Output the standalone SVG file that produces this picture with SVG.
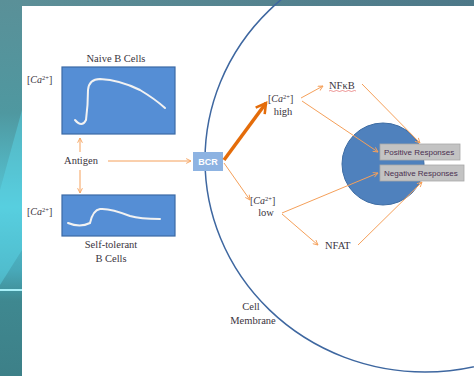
<svg xmlns="http://www.w3.org/2000/svg" width="474" height="376" viewBox="0 0 474 376">
<defs>
<linearGradient id="bgTop" x1="0" y1="0" x2="1" y2="0">
<stop offset="0" stop-color="#5d9098"/><stop offset="1" stop-color="#4d7888"/>
</linearGradient>
<linearGradient id="bgLeft" x1="0" y1="0" x2="0" y2="1">
<stop offset="0" stop-color="#5a9098"/><stop offset="0.3" stop-color="#4f98a0"/><stop offset="0.55" stop-color="#55c8d8"/><stop offset="0.72" stop-color="#48a8b8"/><stop offset="0.8" stop-color="#3f8890"/><stop offset="1" stop-color="#3d8088"/>
</linearGradient>
<marker id="arr" viewBox="0 0 10 10" refX="9" refY="5" markerWidth="6" markerHeight="6" orient="auto" markerUnits="userSpaceOnUse">
<path d="M1,1 L9,5 L1,9" fill="none" stroke="#f5a05a" stroke-width="1.5"/>
</marker>
<marker id="arrThick" viewBox="0 0 10 10" refX="8" refY="5" markerWidth="4" markerHeight="4" orient="auto">
<path d="M1,1 L8,5 L1,9" fill="none" stroke="#e46c0a" stroke-width="1.8"/>
</marker>
<style>
.lbl{font-family:"Liberation Serif",serif;font-size:10.5px;fill:#3a3440;}
.ca{font-family:"Liberation Serif",serif;font-size:10px;fill:#3a3440;}
.box{fill:#558ed5;stroke:#3b69a6;stroke-width:1.2;}
.curve{fill:none;stroke:#f2f2f2;stroke-width:2;stroke-linecap:round;}
.conn{fill:none;stroke:#f5a05a;stroke-width:1;marker-end:url(#arr);}
.resp{fill:#c3c3c3;stroke:#a8a8a8;stroke-width:0.8;}
.rtxt{font-family:"Liberation Sans",sans-serif;font-size:8px;fill:#4a3050;}
</style>
</defs>
<rect x="0" y="0" width="474" height="376" fill="#ffffff"/>
<rect x="0" y="0" width="474" height="6" fill="url(#bgTop)"/>
<rect x="0" y="0" width="22" height="376" fill="url(#bgLeft)"/>
<polygon points="0,190 22,110 22,250 0,285" fill="#5ad8e8" opacity="0.45"/>
<rect x="0" y="289" width="22" height="2" fill="#a8f0f8"/>

<ellipse id="cell-membrane" cx="425" cy="160" rx="220" ry="212" fill="none" stroke="#3e67a0" stroke-width="1.5"/>
<g id="cell-membrane-label">
<text class="lbl" x="251" y="310" text-anchor="middle" font-size="10">Cell</text>
<text class="lbl" x="253" y="324" text-anchor="middle" font-size="10">Membrane</text>
</g>

<g id="naive">
<text class="lbl" x="116" y="62" text-anchor="middle" font-size="11">Naive B Cells</text>
<text class="ca" x="27" y="83">[<tspan font-style="italic">Ca</tspan><tspan font-size="6.5" dy="-3.5">2+</tspan><tspan dy="3.5">]</tspan></text>
<rect class="box" x="62" y="67" width="113" height="67"/>
<path class="curve" d="M75,120 Q82,128 86,120 Q88,105 88,90 Q89,79 100,79 Q120,80 140,90 Q155,99 165,108"/>
</g>

<g id="selftol">
<text class="ca" x="27" y="215">[<tspan font-style="italic">Ca</tspan><tspan font-size="6.5" dy="-3.5">2+</tspan><tspan dy="3.5">]</tspan></text>
<rect class="box" x="62" y="195" width="113" height="41"/>
<path class="curve" d="M68,223 Q80,228 90,223 Q93,210 100,209 Q110,208 130,216 Q140,219 160,219"/>
<text class="lbl" x="111" y="248" text-anchor="middle" font-size="11">Self-tolerant</text>
<text class="lbl" x="111" y="262" text-anchor="middle" font-size="11">B Cells</text>
</g>

<g id="antigen">
<text class="lbl" x="81" y="164" text-anchor="middle">Antigen</text>
</g>

<g id="bcr">
<rect x="193" y="152" width="30" height="19" fill="#8db3e2"/>
<text x="208" y="165" text-anchor="middle" font-family="Liberation Sans,sans-serif" font-size="9" font-weight="bold" fill="#ffffff">BCR</text>
</g>

<g id="ca-high">
<text class="ca" x="268" y="102">[<tspan font-style="italic">Ca</tspan><tspan font-size="6.5" dy="-3.5">2+</tspan><tspan dy="3.5">]</tspan></text>
<text class="lbl" x="283" y="115" text-anchor="middle">high</text>
</g>

<g id="ca-low">
<text class="ca" x="250" y="204">[<tspan font-style="italic">Ca</tspan><tspan font-size="6.5" dy="-3.5">2+</tspan><tspan dy="3.5">]</tspan></text>
<text class="lbl" x="266" y="216" text-anchor="middle">low</text>
</g>

<g id="nfkb">
<text class="lbl" x="329" y="89">NFκB</text>
<path d="M329,91 q1.5,-1 3,0 t3,0 t3,0 t3,0 t3,0 t3,0 t3,0 t3,0 t3,0" fill="none" stroke="#e05050" stroke-width="0.6"/>
</g>

<g id="nfat">
<text class="lbl" x="325" y="249">NFAT</text>
</g>

<g id="nucleus">
<circle cx="383" cy="164" r="41" fill="#4f81bd" stroke="#3d6ca3" stroke-width="1"/>
</g>

<g id="positive">
<rect class="resp" x="380" y="144" width="80" height="16"/>
<text class="rtxt" x="384" y="155">Positive Responses</text>
</g>
<g id="negative">
<rect class="resp" x="380" y="165" width="84" height="16"/>
<text class="rtxt" x="384" y="176">Negative Responses</text>
</g>

<g id="connectors">
<line class="conn" x1="80" y1="152" x2="80" y2="138"/>
<line class="conn" x1="80" y1="170" x2="80" y2="193"/>
<line class="conn" x1="108" y1="161" x2="191" y2="161"/>
<line x1="224" y1="160" x2="266" y2="103" stroke="#e46c0a" stroke-width="3.5" marker-end="url(#arrThick)"/>
<line class="conn" x1="224" y1="163" x2="250" y2="200"/>
<line class="conn" x1="301" y1="98" x2="323" y2="86"/>
<line class="conn" x1="302" y1="101" x2="378" y2="152"/>
<line class="conn" x1="362" y1="84" x2="420" y2="143"/>
<line class="conn" x1="282" y1="213" x2="378" y2="173"/>
<line class="conn" x1="282" y1="214" x2="318" y2="245"/>
<line class="conn" x1="358" y1="245" x2="422" y2="182"/>
</g>
</svg>
